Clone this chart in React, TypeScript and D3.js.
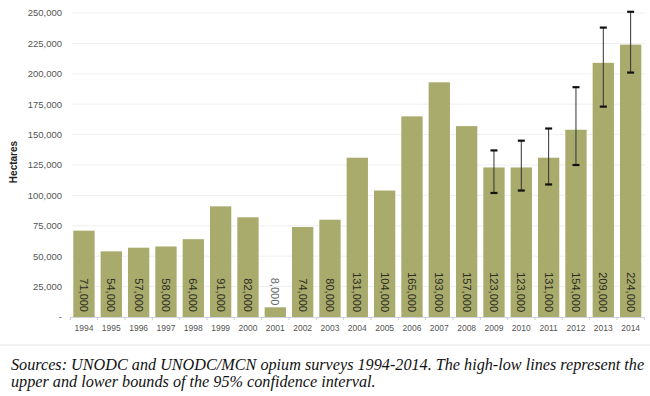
import React from "react";
import * as d3 from "d3";

const years = ["1994","1995","1996","1997","1998","1999","2000","2001","2002","2003","2004","2005","2006","2007","2008","2009","2010","2011","2012","2013","2014"];
const hectares = [71000,54000,57000,58000,64000,91000,82000,8000,74000,80000,131000,104000,165000,193000,157000,123000,123000,131000,154000,209000,224000];
const ciYears = ["2009","2010","2011","2012","2013","2014"];
const ciLow = [102000,104000,109000,125000,173000,201000];
const ciHigh = [137000,145000,155000,189000,238000,251000];
const yTicks = [0,25000,50000,75000,100000,125000,150000,175000,200000,225000,250000];
const captionLines = [
  "Sources: UNODC and UNODC/MCN opium surveys 1994-2014. The high-low lines represent the",
  "upper and lower bounds of the 95% confidence interval.",
];

const W = 650, H = 396;
const fmt = d3.format(",");

export default function App() {
  const x = d3.scaleBand<string>().domain(years).range([70.3, 644.3]).paddingInner(0.22).paddingOuter(0.11);
  const y = d3.scaleLinear().domain([0, 250000]).range([317, 13]);
  const bw = x.bandwidth();
  const sans = "Arial, 'Liberation Sans', sans-serif";
  const step = x.step();
  return (
    <svg width={W} height={H} style={{ position: "absolute", left: 0, top: 0, background: "#fff" }}>
      {yTicks.map((t) => (
        <g key={t}>
          {t > 0 && <line x1={72} x2={645} y1={y(t)} y2={y(t)} stroke="#efefef" strokeWidth={1} />}
          <text x={62} y={y(t)} dy="0.35em" textAnchor="end" fontFamily={sans} fontSize={9.5} fill="#555">
            {t === 0 ? "-" : fmt(t)}
          </text>
        </g>
      ))}
      <text transform={`translate(17,${162}) rotate(-90)`} textAnchor="middle" fontFamily={sans} fontSize={10} fontWeight="bold" fill="#222">
        Hectares
      </text>
      {years.map((yr, i) => {
        const v = hectares[i];
        const x0 = x(yr)!;
        const top = y(v);
        const h = y(0) - top;
        const inside = h > 45;
        const cx = x0 + bw / 2;
        const endY = inside ? 312 : top - 2;
        return (
          <g key={yr}>
            <rect x={x0} y={top} width={bw} height={h} fill="#a9ab6d" />
            <text transform={`translate(${cx},${endY}) rotate(90)`} textAnchor="end" dominantBaseline="central"
              fontFamily={sans} fontSize={11} fill={inside ? "#2b2b1e" : "#666"}>
              {fmt(v)}
            </text>
            <text x={cx} y={331} textAnchor="middle" fontFamily={sans} fontSize={8.5} fill="#555">{yr}</text>
          </g>
        );
      })}
      <line x1={70} x2={645} y1={317.5} y2={317.5} stroke="#d0d3dc" strokeWidth={1} />
      {years.concat(["end"]).map((yr, i) => {
        const bx = 70.3 + i * step;
        return <line key={"t" + i} x1={bx} x2={bx} y1={317} y2={320} stroke="#c8ccd8" strokeWidth={1} />;
      })}
      {ciYears.map((yr, i) => {
        const cx = x(yr)! + bw / 2;
        return (
          <g key={"ci" + yr}>
            <line x1={cx} x2={cx} y1={y(ciHigh[i])} y2={y(ciLow[i])} stroke="#333" strokeWidth={1} />
            <line x1={cx - 3.5} x2={cx + 3.5} y1={y(ciHigh[i])} y2={y(ciHigh[i])} stroke="#111" strokeWidth={2.2} />
            <line x1={cx - 3.5} x2={cx + 3.5} y1={y(ciLow[i])} y2={y(ciLow[i])} stroke="#111" strokeWidth={2.2} />
          </g>
        );
      })}
      <line x1={0} x2={650} y1={345} y2={345} stroke="#e2e2e2" strokeWidth={1} />
      {captionLines.map((l, i) => (
        <text key={i} x={11} y={370 + i * 17} fontFamily="'Liberation Serif', 'Times New Roman', serif" fontStyle="italic" fontSize={16.2} fill="#111">
          {l}
        </text>
      ))}
    </svg>
  );
}
